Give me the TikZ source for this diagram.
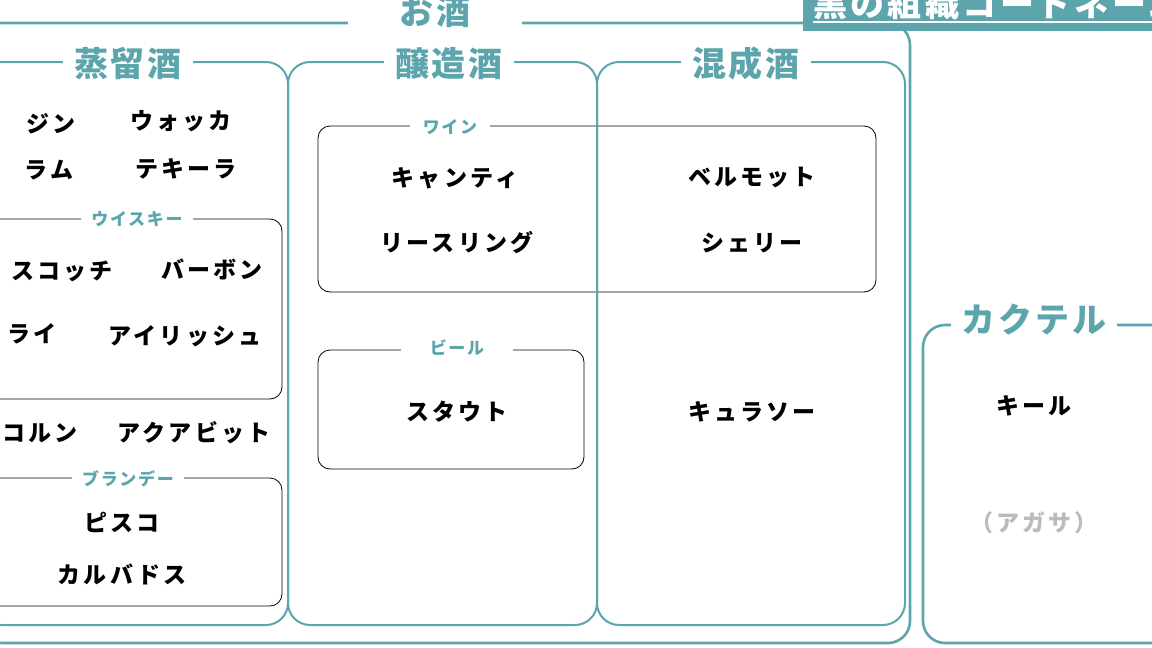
\documentclass[tikz,border=0pt]{standalone}
\usepackage{fontspec}
\setmainfont{Noto Sans CJK JP}
\usepackage{tikz}
\usetikzlibrary{positioning}
\definecolor{orgteal}{HTML}{5DA5AC}
\definecolor{aliasgray}{HTML}{BBBBBB}
\tikzstyle{every node}=[inner sep=0pt]
\tikzstyle{group}=[draw=orgteal,line width=2pt,rounded corners=22pt]
\tikzstyle{outergroup}=[draw=orgteal,line width=2.6pt,rounded corners=22pt]
\tikzstyle{subgroup}=[draw=black,line width=0.8pt,rounded corners=12pt]
\tikzstyle{title}=[fill=white,text=orgteal,font=\bfseries\fontsize{34}{38}\selectfont\addfontfeatures{LetterSpace=8},inner xsep=11pt,inner ysep=4pt]
\tikzstyle{subtitle}=[fill=white,text=orgteal,font=\bfseries\fontsize{17}{20}\selectfont\addfontfeatures{LetterSpace=10},inner xsep=10pt,inner ysep=3pt]
\tikzstyle{member}=[font=\bfseries\fontsize{23}{27}\selectfont\addfontfeatures{LetterSpace=14}]

\begin{document}
\begin{tikzpicture}[x=1pt,y=-1pt]
  \useasboundingbox (0,0) rectangle (1152,648);
  \clip (0,0) rectangle (1152,648);
  % inner groups
  \draw[subgroup] (-20,219) rectangle (282,399);
  \node[subtitle] (whisky) at (137,219) {ウイスキー};
  \draw[subgroup] (-20,478) rectangle (282,606);
  \node[subtitle] (brandy) at (128,479) {ブランデー};
  \draw[subgroup] (318,126) rectangle (876,292);
  \node[subtitle,inner xsep=13pt] (wine) at (450,127) {ワイン};
  \draw[subgroup] (318,350) rectangle (584,469);
  \node[subtitle,inner xsep=29pt] (beer) at (457,348) {ビール};
  % main groups
  \draw[outergroup] (-20,23) rectangle (910,643);
  \node[title,inner xsep=52pt] (sake) at (435,12) {お酒};
  \draw[group] (-20,62) rectangle (288,625);
  \node[title] (distilled) at (128,64) {蒸留酒};
  \draw[group] (288,62) rectangle (597,625);
  \node[title] (brewed) at (449,64) {醸造酒};
  \draw[group] (597,62) rectangle (905,625);
  \node[title] (mixed) at (746,64) {混成酒};
  \draw[outergroup] (923,325) rectangle (1175,643);
  \node[title] (cocktail) at (1034,320) {カクテル};
  % banner
  \fill[orgteal] (803,-10) rectangle (1160,31);
  \node[anchor=base west,text=white,font=\bfseries\fontsize{34}{38}\selectfont\addfontfeatures{LetterSpace=10}] (banner) at (813,16) {黒の組織コードネーム};
  \draw[white,line width=2pt] (813,22) -- (1160,22);
  % members
  \node[member] (gin) at (51,124) {ジン};
  \node[member] (vodka) at (181,121) {ウォッカ};
  \node[member] (rum) at (49,170) {ラム};
  \node[member] (tequila) at (186,169) {テキーラ};
  \node[member] (scotch) at (62,271) {スコッチ};
  \node[member] (bourbon) at (212,269) {バーボン};
  \node[member] (rye) at (32,334) {ライ};
  \node[member] (irish) at (185,336) {アイリッシュ};
  \node[member] (korn) at (40,433) {コルン};
  \node[member] (aquavit) at (194,433) {アクアビット};
  \node[member] (pisco) at (122,522) {ピスコ};
  \node[member] (calvados) at (122,574) {カルバドス};
  \node[member] (chianti) at (455,178) {キャンティ};
  \node[member] (riesling) at (457,243) {リースリング};
  \node[member] (vermouth) at (752,177) {ベルモット};
  \node[member] (sherry) at (752,243) {シェリー};
  \node[member] (stout) at (457,412) {スタウト};
  \node[member] (curacao) at (752,412) {キュラソー};
  \node[member] (kir) at (1034,406) {キール};
  \node[member,text=aliasgray] (agasa) at (1034,523) {（アガサ）};
\end{tikzpicture}
\end{document}
